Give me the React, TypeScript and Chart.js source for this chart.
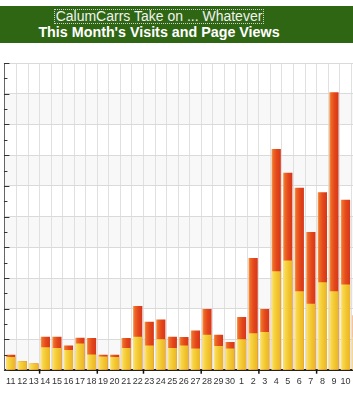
import React, { useEffect, useRef } from 'react';
import { Chart, registerables } from 'chart.js';

Chart.register(...registerables);

const days = [
  '11', '12', '13', '14', '15', '16', '17', '18', '19', '20',
  '21', '22', '23', '24', '25', '26', '27', '28', '29', '30',
  '1', '2', '3', '4', '5', '6', '7', '8', '9', '10', '11',
];

const pageViews = [
  0.5, 0.29, 0.22, 1.09, 1.09, 0.8, 1.06, 1.05, 0.5, 0.5,
  1.05, 2.09, 1.58, 1.65, 1.09, 1.08, 1.29, 1.99, 1.15, 0.92,
  1.73, 3.65, 1.99, 7.2, 6.43, 5.94, 4.5, 5.79, 9.05, 5.55, 1.79,
];

const visits = [
  0.43, 0.29, 0.22, 0.75, 0.72, 0.66, 0.87, 0.51, 0.45, 0.43,
  0.72, 1.09, 0.8, 1.01, 0.72, 0.8, 0.71, 1.15, 0.79, 0.71,
  1.01, 1.2, 1.24, 3.22, 3.57, 2.57, 2.16, 2.86, 2.57, 2.79, 1.07,
];

const yMax = 10;
const yStep = 0.5;
const xTickBoundaries = [3, 8, 12, 17, 22, 27];

const blogTitle = 'CalumCarrs Take on ... Whatever';
const chartTitle = "This Month's Visits and Page Views";

const BAR_PCT = 0.8;

const redStops: [number, string][] = [
  [0, '#f4a050'],
  [0.18, '#ee6a28'],
  [0.55, '#e4481a'],
  [1, '#d6361a'],
];
const yellowStops: [number, string][] = [
  [0, '#fbe88e'],
  [0.2, '#f8d84c'],
  [0.6, '#f2c52e'],
  [1, '#e9b42a'],
];

function gradientFill(stops: [number, string][], fallback: string) {
  return (c: any) => {
    if (c.type !== 'data') return fallback;
    const chart = c.chart;
    const xs = chart.scales && chart.scales.x;
    if (!xs || !xs.width) return fallback;
    const x = xs.getPixelForValue(c.dataIndex);
    const w = (xs.width / days.length) * BAR_PCT;
    const g = chart.ctx.createLinearGradient(x - w / 2, 0, x + w / 2, 0);
    stops.forEach(([o, col]) => g.addColorStop(o, col));
    return g;
  };
}

const decorPlugin = {
  id: 'decor',
  beforeDraw(chart: any) {
    const { ctx, chartArea: a, scales } = chart;
    const y = scales.y;
    ctx.save();
    ctx.fillStyle = '#f8f8f8';
    for (let v = 0; v < yMax; v += 2) {
      const top = y.getPixelForValue(v + 1);
      const bot = y.getPixelForValue(v);
      ctx.fillRect(a.left, top, a.right - a.left, bot - top);
    }
    ctx.restore();
  },
  afterDraw(chart: any) {
    const { ctx, chartArea: a, scales } = chart;
    const y = scales.y;
    const x = scales.x;
    ctx.save();
    ctx.strokeStyle = '#333';
    ctx.lineWidth = 1;
    for (let v = 0; v <= yMax + 1e-9; v += yStep) {
      const py = Math.round(y.getPixelForValue(v)) + 0.5;
      const major = Math.abs(v - Math.round(v)) < 1e-6;
      ctx.beginPath();
      ctx.moveTo(a.left - 1, py);
      ctx.lineTo(a.left + (major ? 4.5 : 2.5), py);
      ctx.stroke();
    }
    const step = x.width / days.length;
    ctx.strokeStyle = '#111';
    ctx.lineWidth = 1.5;
    xTickBoundaries.forEach((k) => {
      const px = x.getPixelForValue(k) - step / 2;
      ctx.beginPath();
      ctx.moveTo(px, a.bottom);
      ctx.lineTo(px, a.bottom + 3.5);
      ctx.stroke();
    });
    ctx.restore();
  },
};

export default function App() {
  const ref = useRef<HTMLCanvasElement | null>(null);

  useEffect(() => {
    if (!ref.current) return;
    const chart = new Chart(ref.current, {
      type: 'bar',
      data: {
        labels: days,
        datasets: [
          {
            label: 'Visits',
            data: visits,
            order: 0,
            grouped: false,
            backgroundColor: gradientFill(yellowStops, '#f2c52e'),
            borderWidth: 0,
            barPercentage: BAR_PCT,
            categoryPercentage: 1,
          },
          {
            label: 'Page Views',
            data: pageViews,
            order: 1,
            grouped: false,
            backgroundColor: gradientFill(redStops, '#e4481a'),
            borderWidth: 0,
            barPercentage: BAR_PCT,
            categoryPercentage: 1,
          },
        ] as any,
      },
      options: {
        responsive: false,
        animation: false,
        devicePixelRatio: 1,
        layout: { padding: { left: 4, right: 0, top: 8, bottom: 7 } },
        plugins: {
          legend: { display: false },
          tooltip: { enabled: false },
          title: { display: false },
        },
        scales: {
          x: {
            offset: true,
            grid: {
              offset: true,
              color: '#e0e0e0',
              drawTicks: false,
            },
            border: { display: true, color: '#222', width: 2 },
            ticks: {
              autoSkip: false,
              maxRotation: 0,
              minRotation: 0,
              padding: 6,
              color: '#333',
              font: { family: "Arial, 'Liberation Sans', sans-serif", size: 9 },
              callback: (_v: any, i: number) => (i === days.length - 1 ? '' : days[i]),
            },
          },
          y: {
            min: 0,
            max: yMax,
            grid: {
              color: (c: any) =>
                c.tick && Math.abs(c.tick.value - Math.round(c.tick.value)) < 1e-6
                  ? '#dadada'
                  : 'rgba(0,0,0,0)',
              drawTicks: false,
            },
            border: { display: true, color: '#666', width: 1 },
            ticks: { display: false, stepSize: yStep },
          },
        },
      },
      plugins: [decorPlugin],
    } as any);
    return () => chart.destroy();
  }, []);

  return (
    <div
      style={{
        position: 'absolute',
        left: 0,
        top: 0,
        width: 353,
        height: 400,
        overflow: 'hidden',
        background: '#fff',
      }}
    >
      <div
        style={{
          position: 'absolute',
          left: 0,
          top: 6,
          width: 353,
          height: 37,
          background: '#2f6614',
        }}
      />
      <div
        style={{
          position: 'absolute',
          left: 54,
          top: 9,
          width: 208,
          height: 13,
          border: '1px dotted #d0d0d0',
          color: '#f2f2f2',
          font: "14px Arial, 'Liberation Sans', sans-serif",
          lineHeight: '13px',
          textAlign: 'center',
          whiteSpace: 'nowrap',
        }}
      >
        {blogTitle}
      </div>
      <div
        style={{
          position: 'absolute',
          left: 0,
          top: 24,
          width: 318,
          color: '#fff',
          font: "bold 14.3px Arial, 'Liberation Sans', sans-serif",
          lineHeight: '16px',
          textAlign: 'center',
          whiteSpace: 'nowrap',
        }}
      >
        {chartTitle}
      </div>
      <canvas
        ref={ref}
        width={363}
        height={345}
        style={{ position: 'absolute', left: 0, top: 55, width: 363, height: 345 }}
      />
    </div>
  );
}
